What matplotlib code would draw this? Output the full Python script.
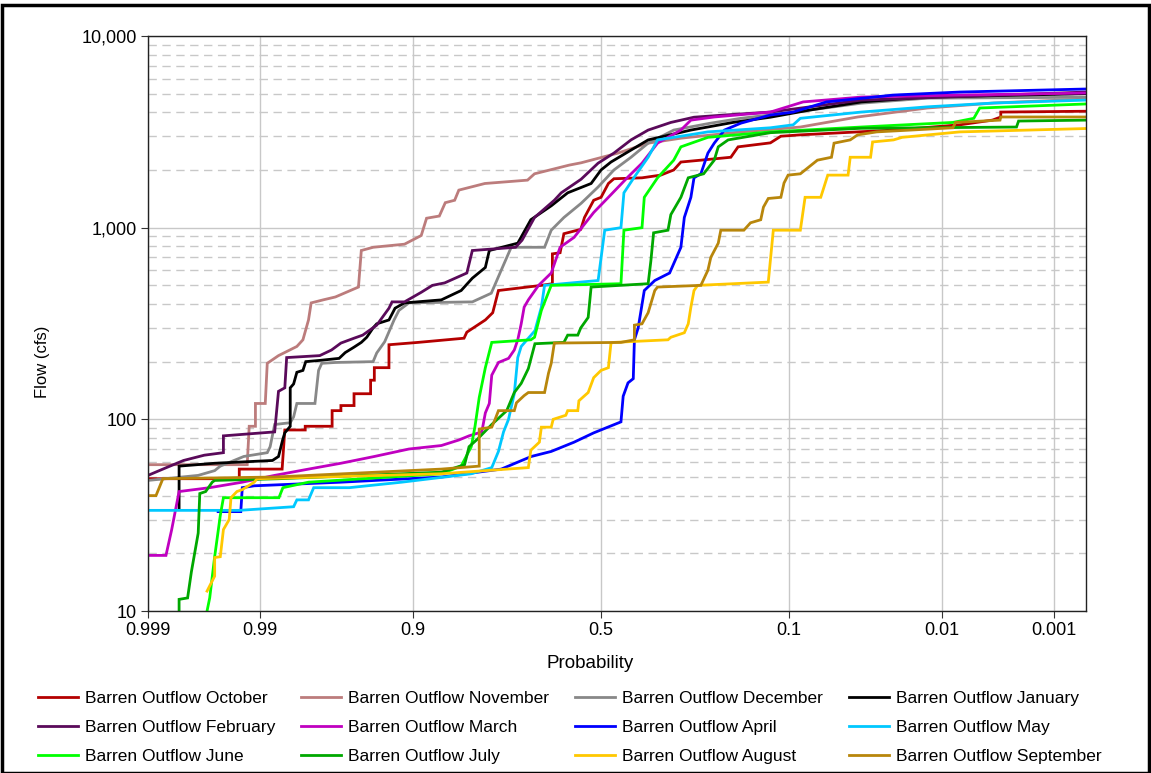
import numpy as np
import matplotlib
matplotlib.use("Agg")
import matplotlib.pyplot as plt
from matplotlib.patches import Rectangle
from matplotlib.ticker import FixedLocator, NullLocator, NullFormatter
from statistics import NormalDist

plt.rcParams['font.family'] = ['Liberation Sans', 'DejaVu Sans']

# exceedance probability / flow (cfs), one pair of lists per month
oct_p = [.999, .9932, .9932, .9852, .9845, .9782, .9782, .9667, .9667, .962, .962, .954, .954, .942, .942, .939, .939, .926, .926, .894, .825, .82, .785, .77, .758, .658, .630, .630, .610, .600, .555, .545, .52, .5, .48, .465, .39, .342, .31, .293, .248, .188, .175, .124, .110, .087, .023, .0072, .0038, .0032, .0032, .00047]
oct_q = [49, 49, 55, 55, 88, 88, 92, 92, 111, 111, 118, 118, 136, 136, 160, 160, 186, 186, 245, 252, 265, 285, 330, 360, 470, 500, 510, 730, 740, 930, 980, 1130, 1390, 1440, 1700, 1800, 1820, 1880, 2000, 2200, 2250, 2330, 2640, 2770, 3000, 3050, 3230, 3440, 3640, 3780, 4010, 4050]

nov_p = [.999, .9921, .9918, .9908, .9908, .989, .9886, .9861, .981, .979, .977, .976, .971, .965, .951, .949, .940, .91, .89, .883, .865, .856, .841, .834, .786, .692, .675, .586, .554, .527, .454, .374, .293, .17, .087, .04, .013, .0037, .00047]
nov_q = [58, 58, 92, 92, 121, 121, 196, 215, 240, 260, 330, 405, 420, 435, 490, 760, 790, 820, 910, 1120, 1150, 1350, 1390, 1570, 1700, 1770, 1910, 2120, 2180, 2250, 2450, 2760, 2930, 3160, 3350, 3780, 4210, 4470, 4690]

dec_p = [.999, .997, .9958, .9953, .9926, .9886, .988, .987, .983, .982, .981, .9745, .973, .9716, .965, .94, .937, .930, .921, .916, .905, .81, .773, .752, .73, .65, .633, .60, .554, .508, .465, .419, .374, .31, .23, .17, .095, .038, .013, .00047]
dec_q = [48, 51, 54, 57, 64, 67, 72, 94, 96, 103, 121, 121, 180, 196, 198, 200, 222, 254, 330, 370, 405, 410, 455, 600, 790, 790, 970, 1130, 1340, 1630, 2000, 2330, 2760, 3230, 3500, 3720, 4000, 4460, 4740, 4790]

jan_p = [.998, .998, .9958, .9926, .9875, .9861, .985, .9845, .983, .983, .982, .981, .979, .978, .9725, .963, .9595, .954, .949, .945, .940, .937, .926, .920, .91, .862, .83, .81, .785, .777, .715, .684, .633, .59, .527, .5, .473, .419, .374, .27, .184, .124, .077, .038, .013, .00047]
jan_q = [34, 57, 59, 60, 61, 64, 79, 85, 92, 146, 153, 176, 180, 200, 203, 208, 223, 238, 252, 268, 300, 315, 330, 380, 405, 420, 470, 545, 620, 760, 830, 1100, 1300, 1520, 1700, 2000, 2200, 2540, 2870, 3230, 3540, 3770, 4110, 4530, 4800, 5000]

feb_p = [.999, .9986, .9978, .9966, .995, .995, .987, .9861, .9845, .984, .9725, .967, .962, .954, .948, .937, .926, .923, .91, .89, .875, .857, .82, .81, .72, .705, .675, .625, .607, .554, .508, .465, .419, .374, .317, .263, .2, .124, .038, .00047]
feb_q = [51, 55, 61, 65, 67, 82, 86, 140, 146, 210, 215, 230, 250, 265, 275, 310, 380, 410, 410, 460, 500, 515, 580, 760, 790, 860, 1130, 1390, 1520, 1790, 2170, 2450, 2870, 3230, 3540, 3770, 3870, 4010, 4630, 5100]

mar_p = [.999, .9985, .9983, .998, .9962, .9928, .987, .977, .962, .939, .905, .862, .834, .816, .792, .785, .777, .772, .758, .736, .723, .715, .707, .70, .69, .665, .633, .61, .573, .52, .48, .427, .39, .35, .293, .27, .22, .124, .084, .038, .0072, .00047]
mar_q = [19.5, 19.5, 26.5, 42, 44, 47, 51, 55, 59, 64, 70, 73, 78, 82, 86, 108, 121, 170, 198, 208, 230, 260, 315, 385, 420, 500, 580, 790, 890, 1200, 1440, 1840, 2170, 2760, 3230, 3640, 3780, 4010, 4530, 4800, 4920, 5040]

apr_p = [.9955, .993, .9928, .991, .962, .862, .752, .683, .633, .573, .52, .446, .44, .427, .413, .41, .40, .384, .357, .32, .293, .285, .27, .263, .248, .233, .22, .2, .17, .124, .095, .062, .023, .0072, .00047]
apr_q = [33, 33, 44, 45, 47, 50, 55, 64, 68, 76, 85, 97, 132, 155, 163, 260, 300, 470, 530, 580, 790, 1130, 1440, 1820, 1910, 2450, 2760, 3230, 3510, 3870, 4010, 4530, 4920, 5100, 5290]

may_p = [.999, .9932, .982, .981, .977, .975, .957, .913, .812, .772, .758, .747, .736, .723, .715, .707, .674, .658, .65, .508, .49, .446, .438, .41, .374, .35, .31, .233, .124, .095, .087, .038, .013, .0037, .00047]
may_q = [33.5, 33.5, 35, 38, 38, 44, 44, 47, 52, 56, 68, 86, 100, 136, 210, 240, 290, 385, 500, 530, 970, 1000, 1520, 1840, 2330, 2870, 2960, 3160, 3320, 3440, 3720, 4010, 4270, 4470, 4630]

jun_p = [.9964, .9962, .9958, .9953, .995, .986, .985, .977, .862, .83, .812, .805, .797, .785, .772, .684, .675, .658, .633, .446, .438, .39, .384, .35, .31, .293, .233, .124, .038, .0082, .0055, .0049, .00047]
jun_q = [10, 11.7, 19.2, 31.5, 39, 39, 44, 47, 52, 57, 72, 92, 130, 186, 252, 260, 268, 370, 500, 510, 970, 1000, 1440, 1820, 2250, 2640, 2960, 3160, 3350, 3540, 3720, 4210, 4420]

jul_p = [.998, .998, .9976, .9974, .997, .9969, .9965, .996, .9958, .986, .862, .824, .816, .80, .772, .74, .723, .707, .69, .674, .60, .59, .563, .555, .535, .527, .374, .367, .36, .324, .317, .293, .276, .242, .22, .212, .193, .124, .038, .0023, .0022, .00047]
jul_q = [10, 11.5, 11.7, 16, 25.5, 41, 42, 47, 48, 49, 53, 58, 72, 79, 94, 111, 138, 154, 184, 248, 252, 275, 275, 300, 340, 490, 510, 670, 940, 970, 1170, 1440, 1820, 1910, 2250, 2640, 2870, 3130, 3300, 3350, 3600, 3640]

aug_p = [.9964, .9958, .9958, .9953, .995, .9944, .9942, .9935, .9928, .991, .9905, .862, .69, .684, .663, .658, .633, .628, .595, .59, .563, .56, .535, .52, .5, .48, .473, .465, .324, .317, .285, .276, .27, .263, .255, .127, .12, .087, .082, .067, .061, .046, .0446, .033, .032, .023, .02, .0072, .00047]
aug_q = [12.7, 15.2, 19, 19.2, 26.6, 30, 39, 42, 43, 47, 49, 52, 56, 69, 76, 91, 91, 100, 105, 111, 111, 125, 138, 165, 180, 186, 250, 252, 260, 268, 283, 315, 385, 470, 500, 520, 970, 970, 1440, 1440, 1880, 1880, 2330, 2330, 2800, 2870, 2960, 3160, 3290]

sep_p = [.999, .9988, .9986, .987, .862, .797, .797, .772, .765, .758, .723, .718, .70, .69, .65, .64, .633, .625, .446, .41, .41, .39, .374, .357, .35, .248, .233, .227, .212, .207, .165, .154, .138, .134, .127, .11, .106, .101, .087, .07, .058, .056, .0446, .04, .03, .0082, .0078, .00325, .0032, .00047]
sep_q = [40, 40, 49, 50, 55, 57, 89, 91, 100, 111, 111, 122, 133, 138, 138, 174, 196, 250, 252, 260, 310, 315, 360, 470, 490, 500, 600, 700, 830, 970, 970, 1060, 1100, 1280, 1420, 1440, 1710, 1880, 1910, 2250, 2330, 2760, 2870, 3050, 3160, 3320, 3540, 3640, 3780, 3780]

months = ["October", "November", "December", "January", "February", "March",
          "April", "May", "June", "July", "August", "September"]
series_p = [oct_p, nov_p, dec_p, jan_p, feb_p, mar_p, apr_p, may_p, jun_p, jul_p, aug_p, sep_p]
series_q = [oct_q, nov_q, dec_q, jan_q, feb_q, mar_q, apr_q, may_q, jun_q, jul_q, aug_q, sep_q]
colors = ["#B40000", "#BC7C7C", "#888888", "#000000", "#5A0A5A", "#C000C0",
          "#0000FF", "#00C8FF", "#00FF00", "#00A800", "#FFC800", "#B8860B"]

xticks = [0.999, 0.99, 0.9, 0.5, 0.1, 0.01, 0.001]
xticklabels = ["0.999", "0.99", "0.9", "0.5", "0.1", "0.01", "0.001"]
yticks = [10, 100, 1000, 10000]
yticklabels = ["10", "100", "1,000", "10,000"]

# normal probability scale for x
_nd = NormalDist()

def ppf(p):
    p = np.asarray(p, dtype=float)
    out = np.full(p.shape, np.nan)
    ok = np.isfinite(p)
    pc = np.clip(p[ok], 1e-12, 1 - 1e-12)
    out[ok] = [_nd.inv_cdf(v) for v in pc]
    return out

def cdf(z):
    z = np.asarray(z, dtype=float)
    out = np.full(z.shape, np.nan)
    ok = np.isfinite(z)
    out[ok] = [_nd.cdf(v) for v in z[ok]]
    return out

fig = plt.figure(figsize=(11.51, 7.73), dpi=100)
ax = fig.add_axes([148 / 1151, 1 - 611 / 773, (1086 - 148) / 1151, (611 - 36) / 773])

lines = []
for i in range(len(months)):
    ln, = ax.plot(series_p[i], series_q[i], color=colors[i], lw=2.0,
                  label="Barren Outflow " + months[i], solid_joinstyle="miter")
    lines.append(ln)

ax.set_xscale("function", functions=(ppf, cdf))
ax.set_yscale("log")
ax.set_xlim(0.999, 0.00047)
ax.set_ylim(10, 10000)

ax.xaxis.set_major_locator(FixedLocator(xticks))
ax.xaxis.set_minor_locator(NullLocator())
ax.set_xticklabels(xticklabels)
ax.yaxis.set_major_locator(FixedLocator(yticks))
ax.set_yticklabels(yticklabels)
ax.yaxis.set_minor_locator(FixedLocator([m * 10 ** e for e in range(1, 4) for m in range(2, 10)]))
ax.yaxis.set_minor_formatter(NullFormatter())
ax.tick_params(axis="both", which="major", labelsize=13, length=5, pad=3,
               direction="out", color="#333333")
ax.tick_params(axis="y", which="minor", length=0)

ax.grid(True, which="major", axis="both", color="#C8C8C8", lw=1.0)
ax.grid(True, which="minor", axis="y", color="#C8C8C8", lw=1.0, ls=(0, (6, 4)))
ax.set_axisbelow(True)
for s in ax.spines.values():
    s.set_color("#222222")
    s.set_linewidth(1.0)

ax.set_xlabel("Probability", fontsize=13.5)
ax.xaxis.set_label_coords((590 - 148) / 938, -(664 - 611) / 575)
ax.xaxis.label.set_va("center")
ax.set_ylabel("Flow (cfs)", fontsize=12)
ax.yaxis.set_label_coords((42 - 148) / 938, (611 - 362) / 575)
ax.yaxis.label.set_va("center")

# legend reads row by row, matplotlib fills column by column
order = [0, 4, 8, 1, 5, 9, 2, 6, 10, 3, 7, 11]
fig.legend([lines[k] for k in order], [lines[k].get_label() for k in order],
           loc="upper left", bbox_to_anchor=(38 / 1151, 1 - 691 / 773), ncol=4,
           frameon=False, fontsize=12.5, handlelength=2.3, handletextpad=0.4,
           columnspacing=1.5, labelspacing=0.8, borderpad=0, borderaxespad=0)

fig.add_artist(Rectangle((0.002, 0.0), 0.996, 0.993, transform=fig.transFigure,
                         fill=False, edgecolor="black", lw=2.5))

fig.savefig("out.png", dpi=100)
